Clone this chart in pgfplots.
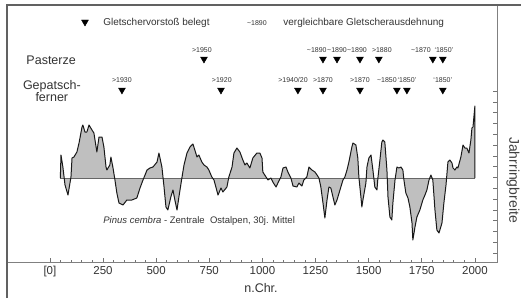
\documentclass[border=0pt]{standalone}
\usepackage{pgfplots}
\pgfplotsset{compat=1.18}
\usepackage{pgfplotstable}
\usepackage{fontspec}
\setmainfont{Liberation Sans}

\pgfplotstableread{
year val
49 0
52 23
61 11
71 -7
85 -17
99 1
104 20
113 21
127 26
137 35
151 51
155 53
165 46
174 46
184 53
198 48
207 45
221 26
231 41
245 41
254 31
264 11
268 8
282 13
287 21
297 10
306 -2
315 -15
325 -25
344 -27
362 -22
386 -22
409 -20
424 -10
438 -2
457 8
471 10
485 11
504 16
513 25
527 11
537 -9
546 -29
555 -32
569 -19
579 -12
588 -22
598 -32
607 -19
621 0
631 13
645 25
659 31
673 34
682 28
692 21
701 23
715 16
725 13
739 11
748 8
762 1
772 -2
781 -9
791 -17
805 -10
814 -14
833 -9
842 1
857 11
866 25
880 30
894 26
908 18
918 13
927 15
941 10
955 20
974 25
988 25
998 20
1002 6
1017 1
1026 -2
1040 0
1049 -4
1064 -9
1073 -5
1087 1
1097 10
1111 11
1120 6
1134 0
1144 -8
1162 -9
1172 -5
1186 -8
1195 -2
1209 1
1219 11
1233 8
1247 6
1257 3
1266 0
1275 -9
1285 -25
1294 -40
1304 -22
1313 -9
1322 -10
1332 -19
1341 -27
1351 -22
1365 -12
1379 -2
1388 1
1398 8
1407 16
1421 31
1426 35
1440 33
1449 20
1454 1
1464 -20
1468 -29
1473 -22
1487 -5
1492 11
1501 20
1511 23
1520 8
1529 -9
1539 -12
1544 1
1553 18
1562 36
1567 38
1576 36
1586 8
1591 -19
1600 -39
1609 -42
1614 -25
1624 -2
1633 11
1642 10
1652 11
1661 8
1666 -2
1675 -15
1685 -20
1694 -29
1704 -45
1708 -62
1718 -49
1727 -39
1741 -32
1755 -22
1765 -17
1774 -12
1784 -2
1793 3
1802 -2
1812 -32
1821 -52
1831 -55
1845 -45
1854 -25
1864 -7
1873 16
1882 18
1892 15
1897 10
1906 8
1915 11
1920 10
1934 21
1944 33
1953 30
1962 30
1972 25
1981 38
1986 50
1991 51
2000 72
2000 0
}\ringdata

\begin{document}
\begin{tikzpicture}[x=1pt,y=1pt]
\path[use as bounding box] (0,0) rectangle (521,298);
\begin{axis}[
  at={(7pt,36pt)}, anchor=south west,
  scale only axis, width=490pt, height=257pt,
  xmin=-202, xmax=2104, ymin=-84, ymax=173,
  xtick={0,250,500,750,1000,1250,1500,1750,2000},
  xticklabels={[0],250,500,750,1000,1250,1500,1750,2000},
  minor xtick={0,50,...,2000},
  ytick={-75,-64.2,-53.4,-42.6,-31.8,-21,-10.2,0.6,11.4,22.2,33,43.8,54.6,65.4,76.2,87},
  yticklabels={},
  xtick pos=left, ytick pos=right,
  tick align=inside,
  major tick length=4.5pt, minor tick length=2.5pt,
  tick style={black!55, line width=0.6pt},
  axis line style={black!50, line width=0.8pt},
  xticklabel style={font=\fontsize{11.5}{11.5}\selectfont, text=black!80, yshift=-1pt},
  clip=false,
]
\addplot[fill=black!25, draw=none] table[x=year,y=val] {\ringdata};
\addplot[black!60, line width=0.8pt] coordinates {(49,0) (2000,0)};
\addplot[black!90, line width=1pt, line join=round] table[x=year,y=val] {\ringdata};

% legend row
\addplot[only marks, mark=triangle*, mark size=4pt, mark options={rotate=180, black}] coordinates {(165,156)};
\node[anchor=west, font=\fontsize{10}{10}\selectfont, text=black!80] at (axis cs:235,155) {Gletschervorstoß belegt};
\node[font=\fontsize{7}{7}\selectfont, text=black!80] at (axis cs:974,155) {\textasciitilde1890};
\node[anchor=west, font=\fontsize{10}{10}\selectfont, text=black!80] at (axis cs:1082,155) {vergleichbare Gletscherausdehnung};

% Pasterze
\node[anchor=west, font=\fontsize{12.5}{12.5}\selectfont, text=black!80] at (axis cs:-127,118) {Pasterze};
\addplot[only marks, mark=triangle*, mark size=4pt, mark options={rotate=180, black}] coordinates {(725,119) (1285,119) (1351,119) (1459,119) (1548,119) (1802,119) (1849,119)};
\begin{scope}[every node/.style={font=\fontsize{7}{7}\selectfont, text=black!80}]
\node at (axis cs:715,128) {>1950};
\node at (axis cs:1256,128) {\textasciitilde1890};
\node at (axis cs:1351,128) {\textasciitilde1890};
\node at (axis cs:1445,128) {\textasciitilde1890};
\node at (axis cs:1562,128) {>1880};
\node at (axis cs:1746,128) {\textasciitilde1870};
\node at (axis cs:1854,128) {`1850'};
\end{scope}

% Gepatschferner
\node[align=center, font=\fontsize{12.5}{12.5}\selectfont, text=black!80] at (axis cs:9,87) {Gepatsch-\\ferner};
\addplot[only marks, mark=triangle*, mark size=4pt, mark options={rotate=180, black}] coordinates {(339,88) (805,88) (1167,88) (1285,88) (1459,88) (1633,88) (1680,88) (1849,88)};
\begin{scope}[every node/.style={font=\fontsize{7}{7}\selectfont, text=black!80}]
\node at (axis cs:339,98) {>1930};
\node at (axis cs:809,98) {>1920};
\node at (axis cs:1144,98) {>1940/20};
\node at (axis cs:1285,98) {>1870};
\node at (axis cs:1459,98) {>1870};
\node at (axis cs:1586,98) {\textasciitilde1850};
\node at (axis cs:1680,98) {`1850'};
\node at (axis cs:1849,98) {`1850'};
\end{scope}

\node[anchor=west, font=\fontsize{9.5}{9.5}\selectfont, text=black!80] at (axis cs:235,-43) {\textit{Pinus cembra} - Zentrale\ \ Ostalpen, 30j. Mittel};
\end{axis}
\draw[line width=1.6pt, black!62] (7,0) -- (7,293) -- (521,293);
\node[rotate=-90, font=\fontsize{14}{14}\selectfont, text=black!75] at (513,118) {Jahrringbreite};
\node[font=\fontsize{12.5}{12.5}\selectfont, text=black!80] at (261,10) {n.Chr.};
\end{tikzpicture}
\end{document}
